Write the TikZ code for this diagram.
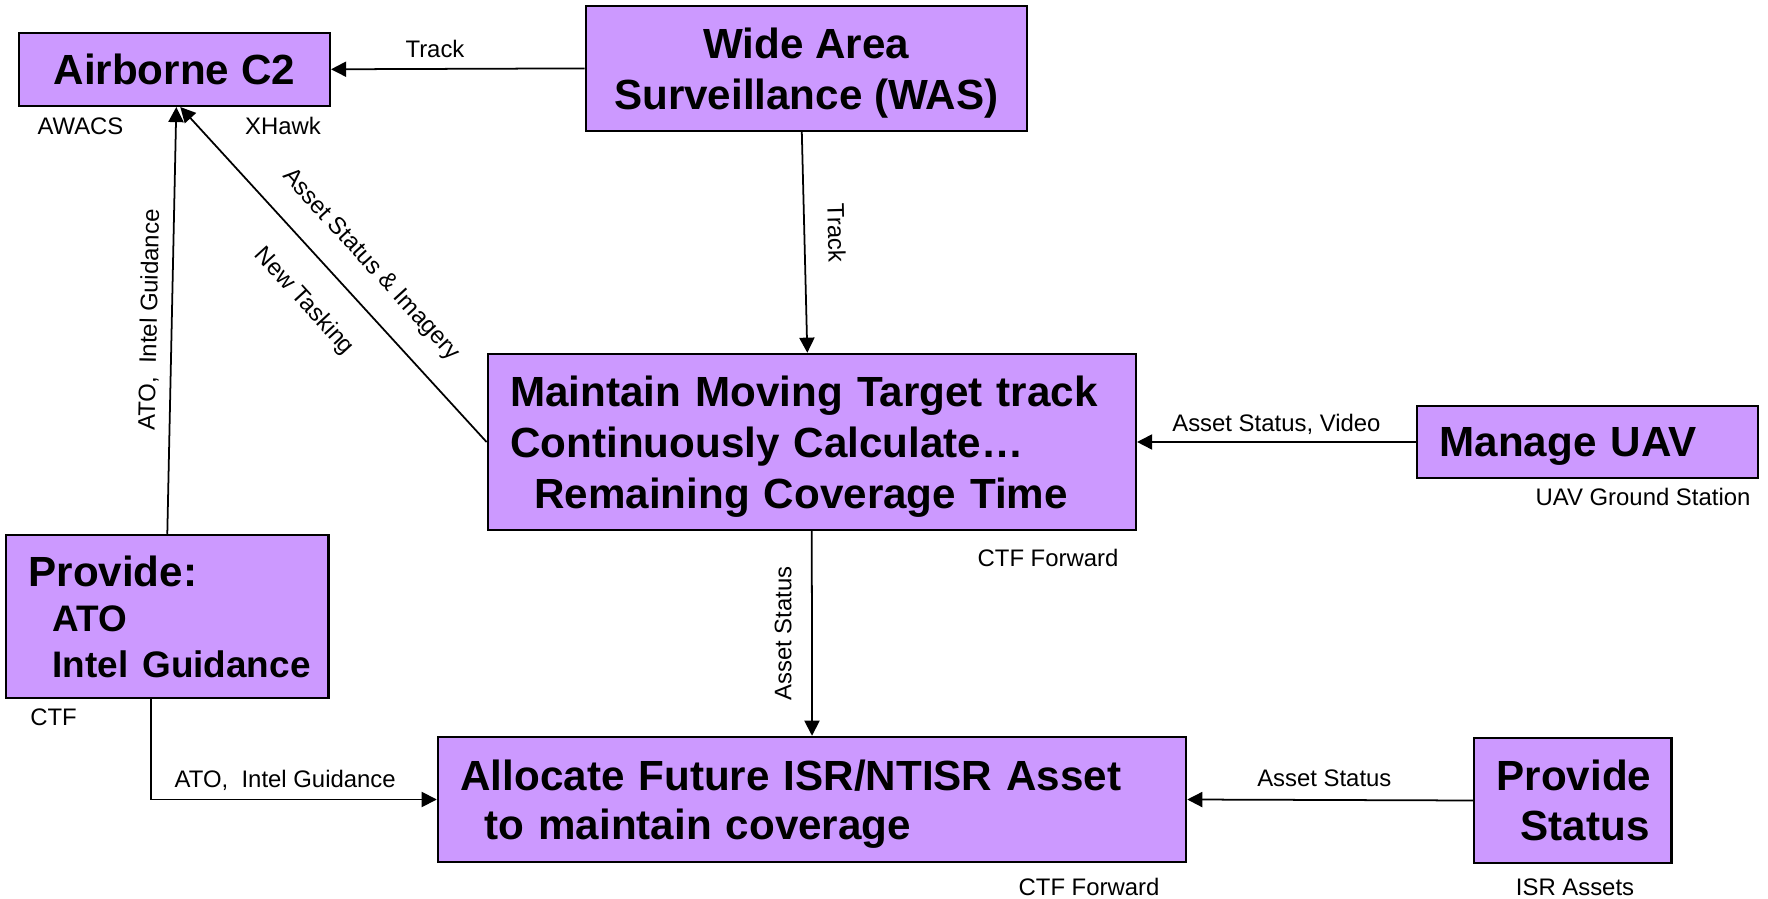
\documentclass[tikz,border=0pt]{standalone}
\usepackage{fontspec}
\setmainfont{Liberation Sans}
\usetikzlibrary{arrows.meta}
\definecolor{boxfill}{RGB}{204,153,255}
\hyphenpenalty=10000

\begin{document}
\begin{tikzpicture}
    \tikzstyle{block} = [rectangle, draw=black, line width=0.7pt, fill=boxfill, inner xsep=0.225cm, inner ysep=0pt, text depth=0pt, font=\bfseries\fontsize{12}{14.5}\selectfont]
    \tikzstyle{lbl} = [inner sep=0pt, text depth=0pt, font=\fontsize{6.8}{8}\selectfont]
    \tikzstyle{arrow} = [->, >={Triangle[length=4.3pt, width=4.3pt]}, line width=0.5pt]
    \useasboundingbox (0, 0) rectangle (17.68, -8.99);
    \node[block, minimum width=3.11cm, minimum height=0.73cm] (ac2) at (1.743, -0.693) {Airborne C2};
    \node[block, minimum width=4.41cm, minimum height=1.25cm, align=center] (was) at (8.063, -0.684) {Wide Area\\Surveillance (WAS)};
    \node[block, minimum width=6.48cm, minimum height=1.76cm, text width=6.03cm, align=left, text depth=29pt] (mmt) at (8.118, -4.42) {Maintain Moving Target track\\Continuously Calculate…\\\hspace*{0.24cm}Remaining Coverage Time};
    \node[block, minimum width=3.41cm, minimum height=0.72cm, text width=2.96cm, align=left] (uav) at (15.875, -4.419) {Manage UAV};
    \node[block, minimum width=3.226cm, minimum height=1.63cm, text width=2.776cm, align=left, text depth=26pt, font=\bfseries\fontsize{12}{13}\selectfont] (prv) at (1.673, -6.165) {Provide:\\\hspace*{0.24cm}{\fontsize{10.5}{13}\selectfont ATO}\\\hspace*{0.24cm}{\fontsize{10.5}{13}\selectfont Intel~Guidance}};
    \node[block, minimum width=7.48cm, minimum height=1.25cm, text width=7.03cm, align=left, text depth=14pt, font=\bfseries\fontsize{12}{14}\selectfont] (alc) at (8.12, -7.995) {Allocate Future ISR/NTISR Asset\\\hspace*{0.24cm}to maintain coverage};
    \node[block, minimum width=1.975cm, minimum height=1.25cm, text width=1.525cm, align=left, text depth=14.2pt, font=\bfseries\fontsize{12}{14.2}\selectfont] (pst) at (15.728, -8.005) {Provide\\\hspace*{0.24cm}Status};
    % connectors
    \draw[arrow] (was.west) -- node[lbl, pos=0.59, above=3.1pt] (ltrk1) {Track} (ac2.east);
    \draw[arrow] ([xshift=-0.045cm]was.south) -- node[lbl, pos=0.46, sloped, above=6.5pt] (ltrk2) {Track} ([xshift=-0.045cm]mmt.north);
    \draw[arrow] (prv.north) -- node[lbl, pos=0.5, sloped, above=4pt] (lato1) {ATO,\ \ Intel Guidance} ([xshift=0.02cm]ac2.south);
    \draw[arrow] (mmt.west) -- node[lbl, pos=0.46, sloped, above=7.7pt] (lasi) {Asset Status \& Imagery} node[lbl, pos=0.5, sloped, below=8pt] (lnt) {New Tasking} ([xshift=0.06cm]ac2.south);
    \draw[arrow] (uav.west) -- node[lbl, midway, above=2.7pt] (lasv) {Asset Status, Video} (mmt.east);
    \draw[arrow] (mmt.south) -- node[lbl, midway, rotate=90, anchor=south, yshift=5.6pt] (las1) {Asset Status} (alc.north);
    \draw[arrow] ([xshift=-0.165cm]prv.south) |- node[lbl, pos=0.735, above=3.1pt] (lato2) {ATO,\ \ Intel Guidance} (alc.west);
    \draw[arrow] (pst.west) -- node[lbl, pos=0.52, above=3.7pt] (las2) {Asset Status} (alc.east);
    % site labels
    \node[lbl] (awacs) at (0.805, -1.26) {AWACS};
    \node[lbl] (xhawk) at (2.83, -1.26) {XHawk};
    \node[lbl] (ctffwd1) at (10.48, -5.58) {CTF Forward};
    \node[lbl] (uavgs) at (16.43, -4.97) {UAV Ground Station};
    \node[lbl] (ctf) at (0.535, -7.17) {CTF};
    \node[lbl] (ctffwd2) at (10.89, -8.87) {CTF Forward};
    \node[lbl] (isr) at (15.75, -8.87) {ISR Assets};
\end{tikzpicture}
\end{document}
